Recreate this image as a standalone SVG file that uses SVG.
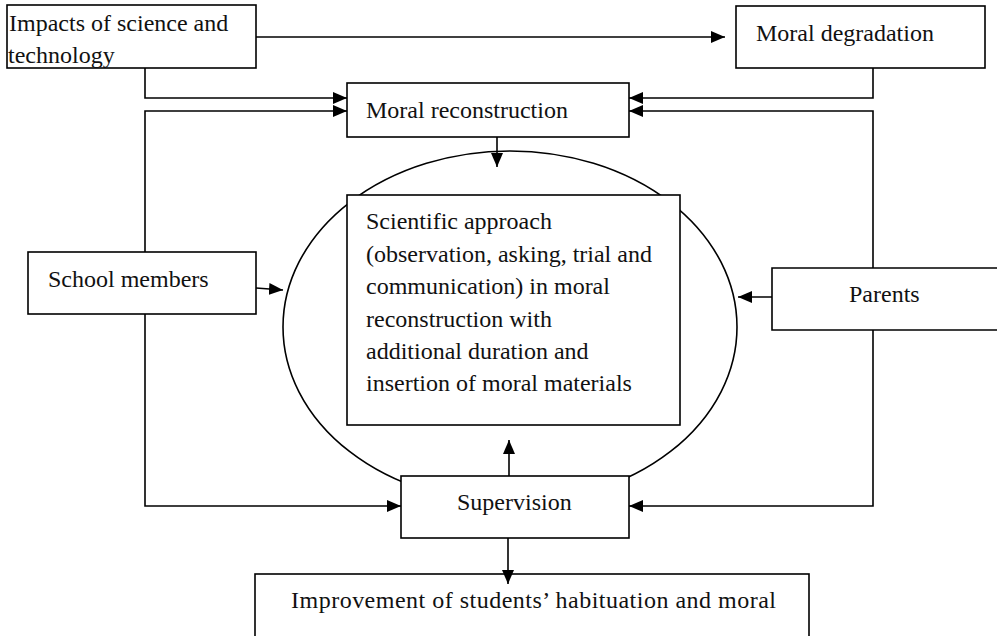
<svg xmlns="http://www.w3.org/2000/svg" width="997" height="636" viewBox="0 0 997 636">
<defs>
<marker id="ah" markerUnits="userSpaceOnUse" markerWidth="14" markerHeight="12" refX="14" refY="6" orient="auto">
<path d="M0,0 L14,6 L0,12 Z" fill="#000"/>
</marker>
<style>
.box{fill:#fff;stroke:#000;stroke-width:1.6}
.t{font-family:"Liberation Serif","Times New Roman",serif;font-size:24px;fill:#111}
.a{fill:none;stroke:#000;stroke-width:1.6;marker-end:url(#ah)}
</style>
</defs>
<rect width="997" height="636" fill="#fff"/>
<ellipse id="cycle" cx="510" cy="327" rx="227" ry="176" fill="none" stroke="#000" stroke-width="1.6"/>
<g id="impacts">
<rect class="box" x="7" y="5" width="249" height="63"/>
<text class="t" x="9" y="31">Impacts of science and</text>
<text class="t" x="8" y="63">technology</text>
</g>
<g id="degradation">
<rect class="box" x="736" y="6" width="249" height="62"/>
<text class="t" x="756" y="41">Moral degradation</text>
</g>
<g id="reconstruction">
<rect class="box" x="347" y="83" width="282" height="54"/>
<text class="t" x="366" y="118">Moral reconstruction</text>
</g>
<g id="scientific">
<rect class="box" x="347" y="195" width="333" height="230"/>
<text class="t" x="366" y="229">Scientific approach</text>
<text class="t" x="366" y="262">(observation, asking, trial and</text>
<text class="t" x="366" y="294">communication) in moral</text>
<text class="t" x="366" y="327">reconstruction with</text>
<text class="t" x="366" y="359">additional duration and</text>
<text class="t" x="366" y="391">insertion of moral materials</text>
</g>
<g id="school">
<rect class="box" x="28" y="252" width="228" height="62"/>
<text class="t" x="48" y="287">School members</text>
</g>
<g id="parents">
<path class="box" d="M1000,268 H772 V330 H1000"/>
<text class="t" x="849" y="302">Parents</text>
</g>
<g id="supervision">
<rect class="box" x="401" y="476" width="228" height="62"/>
<text class="t" x="457" y="510">Supervision</text>
</g>
<g id="improvement">
<rect class="box" x="255" y="574" width="554" height="70"/>
<text class="t" x="291" y="608" textLength="485" lengthAdjust="spacing">Improvement of students’ habituation and moral</text>
</g>
<g id="connectors">
<path class="a" d="M256,37 H725"/>
<path class="a" d="M145,68 V98 H347"/>
<path class="a" d="M145,252 V111 H347"/>
<path class="a" d="M873,68 V98 H629"/>
<path class="a" d="M873,268 V111 H629"/>
<path class="a" d="M497,137 V167"/>
<path class="a" d="M256,288 L283,290"/>
<path class="a" d="M772,297 H738"/>
<path class="a" d="M145,314 V506 H401"/>
<path class="a" d="M873,330 V506 H629"/>
<path class="a" d="M509,476 V440"/>
<path class="a" d="M508,538 V584"/>
</g>
</svg>
